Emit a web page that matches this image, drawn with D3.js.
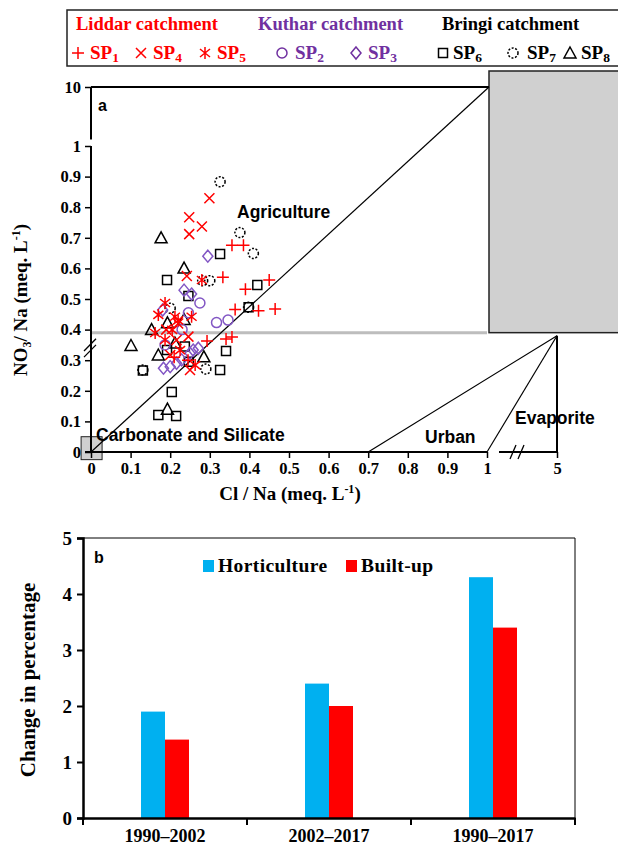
<!DOCTYPE html>
<html>
<head>
<meta charset="utf-8">
<script src="https://cdn.jsdelivr.net/npm/d3@7"></script>
<style>
	body { margin: 0; background: #fff; }
	svg text { font-family: "Liberation Serif", "Times New Roman", serif; font-weight: bold; }
	svg text.sans { font-family: "Liberation Sans", Arial, sans-serif; }
</style>
</head>
<body>
<svg id="chart" width="618" height="855"></svg>
<script>
// ---- panel a : Cl/Na vs NO3/Na, [Cl/Na, NO3/Na] pairs ----
const sp1 = [[0.356, 0.676], [0.385, 0.676], [0.333, 0.571], [0.45, 0.562], [0.39, 0.532],
	[0.364, 0.466], [0.423, 0.462], [0.465, 0.467], [0.293, 0.363], [0.341, 0.369],
	[0.356, 0.376], [0.21, 0.31], [0.245, 0.3]];
const sp4 = [[0.299, 0.829], [0.248, 0.767], [0.28, 0.737], [0.248, 0.712], [0.242, 0.575],
	[0.216, 0.366], [0.246, 0.377], [0.25, 0.268], [0.2, 0.317], [0.19, 0.40], [0.22, 0.42]];
const sp5 = [[0.28, 0.562], [0.187, 0.487], [0.17, 0.448], [0.212, 0.442], [0.254, 0.442],
	[0.187, 0.366], [0.225, 0.333], [0.263, 0.284], [0.205, 0.399], [0.162, 0.389], [0.22, 0.43]];
const sp2 = [[0.275, 0.487], [0.246, 0.455], [0.317, 0.423], [0.346, 0.431], [0.187, 0.35], [0.23, 0.40]];
const sp3 = [[0.295, 0.64], [0.235, 0.529], [0.254, 0.516], [0.181, 0.464], [0.271, 0.339],
	[0.25, 0.323], [0.258, 0.333], [0.229, 0.301], [0.216, 0.29], [0.2, 0.279], [0.183, 0.274]];
const sp6 = [[0.326, 0.647], [0.192, 0.562], [0.42, 0.546], [0.246, 0.51], [0.398, 0.473],
	[0.237, 0.345], [0.192, 0.333], [0.341, 0.33], [0.247, 0.295], [0.326, 0.268],
	[0.131, 0.266], [0.204, 0.196], [0.17, 0.121], [0.215, 0.118]];
const sp7 = [[0.326, 0.883], [0.376, 0.717], [0.41, 0.649], [0.30, 0.56], [0.282, 0.56],
	[0.2, 0.47], [0.398, 0.473], [0.29, 0.271], [0.131, 0.268]];
const sp8 = [[0.177, 0.70], [0.235, 0.601], [0.193, 0.422], [0.235, 0.433], [0.153, 0.40],
	[0.101, 0.348], [0.212, 0.356], [0.17, 0.317], [0.285, 0.311], [0.193, 0.14]];

const xTicksA = [0, 0.1, 0.2, 0.3, 0.4, 0.5, 0.6, 0.7, 0.8, 0.9, 1, 5];
const yTicksA = [0, 0.1, 0.2, 0.3, 0.4, 0.5, 0.6, 0.7, 0.8, 0.9, 1];
const yTicksATop = [10];

// ---- panel b : land use change ----
const periods = ["1990–2002", "2002–2017", "1990–2017"];
const horticulture = [1.9, 2.4, 4.3];
const builtUp = [1.4, 2.0, 3.4];
const yTicksB = [0, 1, 2, 3, 4, 5];

const RED = "#FF0000";
const PURPLE = "#7030A0";
const PURPLE_MK = "#8256C4";

const svg = d3.select("#chart");

const shapePath = {
	plus: "M-6,0H6M0,-6V6",
	cross: "M-5,-5L5,5M-5,5L5,-5",
	star: "M0,-6V6M-5,-4L5,4M-5,4L5,-4",
	circle: "M5,0A5,5 0 1,1 -5,0A5,5 0 1,1 5,0Z",
	diamond: "M0,-6L5,0L0,6L-5,0Z",
	square: "M-4.5,-4.5H4.5V4.5H-4.5Z",
	triangle: "M0,-6L6,5H-6Z"
};

const series = [
	{ name: "SP6", data: sp6, shape: "square", color: "#000" },
	{ name: "SP7", data: sp7, shape: "circle", color: "#000", dash: "2,1.6" },
	{ name: "SP8", data: sp8, shape: "triangle", color: "#000" },
	{ name: "SP2", data: sp2, shape: "circle", color: PURPLE_MK },
	{ name: "SP3", data: sp3, shape: "diamond", color: PURPLE_MK },
	{ name: "SP1", data: sp1, shape: "plus", color: RED },
	{ name: "SP4", data: sp4, shape: "cross", color: RED },
	{ name: "SP5", data: sp5, shape: "star", color: RED }
];

const drawMarker = (sel, s) => sel
	.attr("d", shapePath[s.shape])
	.attr("fill", "none")
	.attr("stroke", s.color)
	.attr("stroke-width", 1.5)
	.attr("stroke-dasharray", s.dash || null);

// ================= panel a =================
const x = d3.scaleLinear().domain([0, 1, 5]).range([91, 487, 557]);
const y = d3.scaleLinear().domain([0, 1, 10]).range([452, 146, 87]);

const gA = svg.append("g");

// grey evaporite box and grey threshold line
gA.append("rect")
	.attr("x", x(1) + 2).attr("y", y(10) - 16)
	.attr("width", 640 - x(1)).attr("height", y(0.39) - y(10) + 16)
	.attr("fill", "#D0D0D0").attr("stroke", "#222").attr("stroke-width", 1.5);

gA.append("line")
	.attr("x1", x(0)).attr("x2", x(1))
	.attr("y1", y(0.39)).attr("y2", y(0.39))
	.attr("stroke", "#BDBDBD").attr("stroke-width", 3);

// small grey box at the origin
gA.append("rect")
	.attr("x", x(-0.025)).attr("y", y(0.05))
	.attr("width", x(0.028) - x(-0.025)).attr("height", y(-0.025) - y(0.05))
	.attr("fill", "#D0D0D0").attr("stroke", "#222").attr("stroke-width", 1);

// boundary lines
const lines = [
	[[x(0), y(0)], [x(1) + 2, y(10)]],
	[[x(0), y(10)], [x(1) + 2, y(10)]],
	[[x(0.7), y(0)], [x(5), y(0.38)]],
	[[x(1), y(0)], [x(5), y(0.38)]],
	[[x(5), y(0)], [x(5), y(0.38)]]
];
gA.selectAll("line.bound").data(lines).join("line")
	.attr("class", "bound")
	.attr("x1", d => d[0][0]).attr("y1", d => d[0][1])
	.attr("x2", d => d[1][0]).attr("y2", d => d[1][1])
	.attr("stroke", "#000")
	.attr("stroke-width", (d, i) => i === 0 || i === 2 || i === 3 ? 1.2 : 2);

// axes
const fmt = d => String(d);
const xAxis = gA.append("g")
	.attr("transform", "translate(0," + y(0) + ")")
	.call(d3.axisBottom(x).tickValues(xTicksA).tickFormat(fmt).tickSize(6).tickPadding(4));
xAxis.select(".domain").remove();
xAxis.selectAll("text").attr("font-size", 16.5).attr("fill", "#000");
xAxis.selectAll("line").attr("stroke-width", 1.5);

const yAxis = gA.append("g")
	.attr("transform", "translate(" + x(0) + ",0)")
	.call(d3.axisLeft(y).tickValues(yTicksA.concat(yTicksATop)).tickFormat(fmt).tickSize(6).tickPadding(4));
yAxis.select(".domain").remove();
yAxis.selectAll("text").attr("font-size", 16.5).attr("fill", "#000");
yAxis.selectAll("line").attr("stroke-width", 1.5);

const axisSegs = [
	[[x(0) - 6, y(0)], [x(1), y(0)]],
	[[x(1) + 12, y(0)], [x(5), y(0)]],
	[[x(0), y(0)], [x(0), y(1)]],
	[[x(0), y(2)], [x(0), y(10)]]
];
gA.selectAll("line.axis-seg").data(axisSegs).join("line")
	.attr("class", "axis-seg")
	.attr("x1", d => d[0][0]).attr("y1", d => d[0][1])
	.attr("x2", d => d[1][0]).attr("y2", d => d[1][1])
	.attr("stroke", "#000").attr("stroke-width", 2);

// break marks
const breaks = [
	[[x(0) - 7, y(0.33)], [x(0) + 5, y(0.37)]],
	[[x(0) - 7, y(0.31)], [x(0) + 5, y(0.35)]],
	[[x(1) + 23, y(0) + 7], [x(1) + 29, y(0) - 7]],
	[[x(1) + 31, y(0) + 7], [x(1) + 37, y(0) - 7]]
];
gA.selectAll("line.brk").data(breaks).join("line")
	.attr("class", "brk")
	.attr("x1", d => d[0][0]).attr("y1", d => d[0][1])
	.attr("x2", d => d[1][0]).attr("y2", d => d[1][1])
	.attr("stroke", "#000").attr("stroke-width", 1.3);

// points
series.forEach(s => {
	gA.append("g").selectAll("path").data(s.data).join("path")
		.attr("transform", d => "translate(" + x(d[0]) + "," + y(d[1]) + ")")
		.call(drawMarker, s);
});

// region labels
const regionLabels = [
	{ text: "Agriculture", x: 237, y: 218 },
	{ text: "Carbonate and Silicate", x: 96, y: 441 },
	{ text: "Urban", x: 425, y: 443 },
	{ text: "Evaporite", x: 515, y: 424 }
];
gA.selectAll("text.region").data(regionLabels).join("text")
	.attr("class", "region sans")
	.attr("x", d => d.x).attr("y", d => d.y)
	.attr("font-size", 17.5)
	.text(d => d.text);

gA.append("text").attr("class", "sans")
	.attr("x", 98).attr("y", 111).attr("font-size", 16).text("a");

// axis titles
const yTitleA = gA.append("text")
	.attr("transform", "translate(27,300) rotate(-90)")
	.attr("text-anchor", "middle")
	.attr("font-size", 19);
yTitleA.append("tspan").text("NO");
yTitleA.append("tspan").attr("font-size", 12).attr("dy", 4).text("3");
yTitleA.append("tspan").attr("dy", -4).text("/ Na (meq. L");
yTitleA.append("tspan").attr("font-size", 12).attr("dy", -7).text("-1");
yTitleA.append("tspan").attr("dy", 7).text(")");

const xTitleA = gA.append("text")
	.attr("x", 290).attr("y", 500)
	.attr("text-anchor", "middle")
	.attr("font-size", 19);
xTitleA.append("tspan").text("Cl / Na (meq. L");
xTitleA.append("tspan").attr("font-size", 12).attr("dy", -7).text("-1");
xTitleA.append("tspan").attr("dy", 7).text(")");

// legend
const legend = svg.append("g");
legend.append("rect")
	.attr("x", 67).attr("y", 10).attr("width", 600).attr("height", 56)
	.attr("fill", "#fff").attr("stroke", "#222").attr("stroke-width", 1.5);

const groups = [
	{ text: "Liddar catchment", color: RED, x: 76 },
	{ text: "Kuthar catchment", color: PURPLE, x: 258 },
	{ text: "Bringi catchment", color: "#000", x: 442 }
];
legend.selectAll("text.grp").data(groups).join("text")
	.attr("class", "grp")
	.attr("x", d => d.x).attr("y", 30)
	.attr("font-size", 18.5)
	.attr("fill", d => d.color)
	.text(d => d.text);

const legendItems = [
	{ s: "SP1", mx: 78, tx: 90 },
	{ s: "SP4", mx: 141, tx: 153 },
	{ s: "SP5", mx: 205, tx: 217 },
	{ s: "SP2", mx: 282, tx: 295 },
	{ s: "SP3", mx: 356, tx: 368 },
	{ s: "SP6", mx: 443, tx: 453 },
	{ s: "SP7", mx: 513, tx: 527 },
	{ s: "SP8", mx: 570, tx: 581 }
];
legendItems.forEach(it => {
	const s = series.find(e => e.name === it.s);
	const c = s.color === PURPLE_MK ? PURPLE : s.color;
	legend.append("path")
		.attr("transform", "translate(" + it.mx + ",53)")
		.call(drawMarker, Object.assign({}, s, { color: c }));
	const t = legend.append("text")
		.attr("x", it.tx).attr("y", 59)
		.attr("font-size", 19).attr("fill", c);
	t.append("tspan").text("SP");
	t.append("tspan").attr("font-size", 13.5).attr("dy", 3).text(it.s.slice(2));
});

// ================= panel b =================
const x0 = d3.scaleBand().domain(periods).range([83, 575]);
const keys = ["Horticulture", "Built-up"];
const colors = { "Horticulture": "#00B0F0", "Built-up": "#FF0000" };
const x1 = d3.scaleBand().domain(keys)
	.range([x0.bandwidth() / 2 - 24, x0.bandwidth() / 2 + 24]);
const y2 = d3.scaleLinear().domain([0, 5]).range([818, 538]);

const gB = svg.append("g");

// frame (top and right)
gB.append("path")
	.attr("d", "M" + x0.range()[0] + "," + y2(5) + "H" + x0.range()[1] + "V" + y2(0))
	.attr("fill", "none").attr("stroke", "#000").attr("stroke-width", 1);

const barData = periods.map((p, i) => ({ period: p, values: [
	{ key: "Horticulture", value: horticulture[i] },
	{ key: "Built-up", value: builtUp[i] }
] }));

gB.selectAll("g.bar-group").data(barData).join("g")
	.attr("class", "bar-group")
	.attr("transform", d => "translate(" + x0(d.period) + ",0)")
	.selectAll("rect").data(d => d.values).join("rect")
	.attr("x", d => x1(d.key))
	.attr("width", x1.bandwidth())
	.attr("y", d => y2(d.value))
	.attr("height", d => y2(0) - y2(d.value))
	.attr("fill", d => colors[d.key]);

const xAxisB = gB.append("g")
	.attr("transform", "translate(0," + y2(0) + ")")
	.call(d3.axisBottom(x0).tickSize(0).tickPadding(11));
xAxisB.select(".domain").attr("stroke-width", 2.5);
xAxisB.selectAll("text").attr("font-size", 18).attr("fill", "#000");
// tick marks at the band edges
const edges = periods.map(p => x0(p)).concat([x0.range()[1]]);
xAxisB.selectAll("line.edge").data(edges).join("line")
	.attr("class", "edge")
	.attr("x1", d => d).attr("x2", d => d)
	.attr("y1", 0).attr("y2", 7)
	.attr("stroke", "#000").attr("stroke-width", 2);

const yAxisB = gB.append("g")
	.attr("transform", "translate(" + x0.range()[0] + ",0)")
	.call(d3.axisLeft(y2).tickValues(yTicksB).tickFormat(d3.format("d")).tickSize(6).tickPadding(5));
yAxisB.select(".domain").attr("stroke-width", 2.5);
yAxisB.selectAll("line").attr("stroke-width", 2);
yAxisB.selectAll("text").attr("font-size", 19).attr("fill", "#000");

gB.append("text")
	.attr("transform", "translate(35,680) rotate(-90)")
	.attr("text-anchor", "middle")
	.attr("font-size", 21)
	.text("Change in percentage");

gB.append("text").attr("class", "sans")
	.attr("x", 94).attr("y", 563).attr("font-size", 16).text("b");

const legB = gB.selectAll("g.leg-b").data(keys).join("g")
	.attr("class", "leg-b")
	.attr("transform", (d, i) => "translate(" + (i === 0 ? 203 : 346) + ",566)");
legB.append("rect")
	.attr("width", 11).attr("height", 12).attr("y", -6)
	.attr("fill", d => colors[d]);
legB.append("text")
	.attr("x", 15).attr("y", 6)
	.attr("font-size", 19.5)
	.attr("letter-spacing", 0.4)
	.text(d => d);
</script>
</body>
</html>
